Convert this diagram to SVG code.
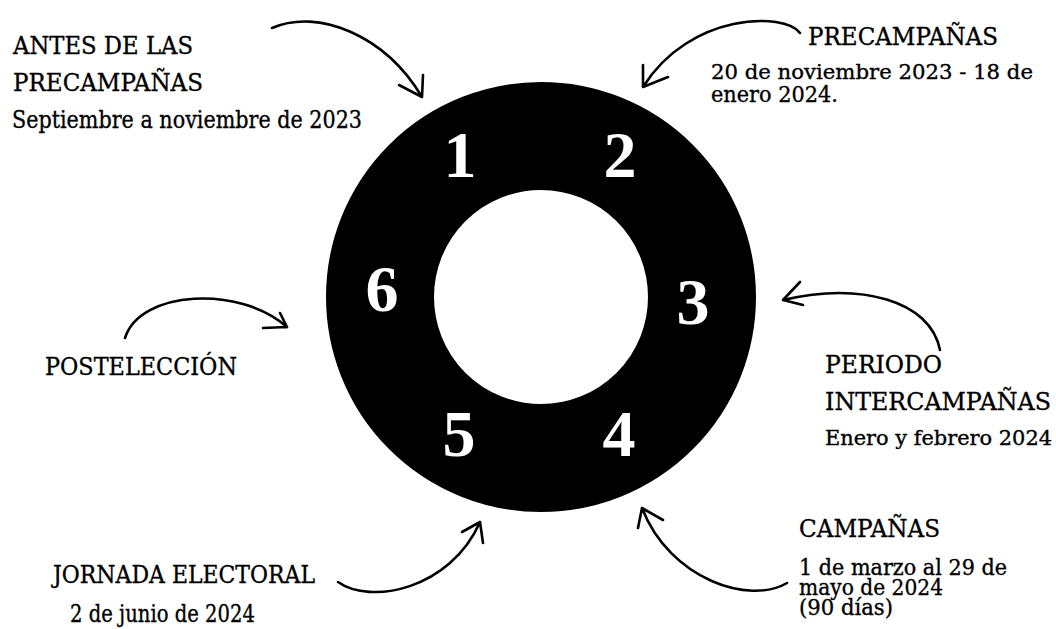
<svg xmlns="http://www.w3.org/2000/svg" width="1056" height="629" viewBox="0 0 1056 629">
<style>
.lbl{font-family:"DejaVu Serif","Liberation Serif",serif;font-size:24px;fill:#000;stroke:#000;stroke-width:0.35}
.tight{font-size:22px}
.edge{font-size:21px}
.num{font-family:"Liberation Serif","DejaVu Serif",serif;font-size:66px;font-weight:bold;fill:#fff;text-anchor:middle}
.arr{fill:none;stroke:#000;stroke-width:2.6;stroke-linecap:round;stroke-linejoin:round}
</style>
<rect width="1056" height="629" fill="#fff"/>
<g id="ring">
<circle cx="541" cy="297" r="161" fill="none" stroke="#000" stroke-width="108"/>
<text class="num" x="460" y="177">1</text>
<text class="num" x="620" y="177">2</text>
<text class="num" x="693" y="324">3</text>
<text class="num" x="619" y="456">4</text>
<text class="num" x="459" y="456">5</text>
<text class="num" x="382" y="311">6</text>
</g>
<g id="connectors">
<path class="arr" d="M272,28 C318,8 385,35 422,97 M399,85 L422,97 L423,75"/>
<path class="arr" d="M800,33 C785,12 690,12 643,87 M643,65 L643,87 L668,77"/>
<path class="arr" d="M940,350 C930,300 860,282 783,300 M800,282 L783,300 L803,305"/>
<path class="arr" d="M787,583 C750,605 670,580 642,508 M638,528 L642,508 L663,520"/>
<path class="arr" d="M338,582 C370,605 450,590 480,522 M462,532 L480,522 L483,543"/>
<path class="arr" d="M125,338 C140,290 240,285 287,327 M280,313 L287,327 L263,328"/>
</g>
<g id="n1">
<text class="lbl" x="13" y="54" textLength="180" lengthAdjust="spacingAndGlyphs">ANTES DE LAS</text>
<text class="lbl" x="13" y="91" textLength="190" lengthAdjust="spacingAndGlyphs">PRECAMPAÑAS</text>
<text class="lbl" x="12" y="128" textLength="350" lengthAdjust="spacingAndGlyphs">Septiembre a noviembre de 2023</text>
</g>
<g id="n2">
<text class="lbl" x="808" y="45" textLength="190" lengthAdjust="spacingAndGlyphs">PRECAMPAÑAS</text>
<text class="lbl edge" x="711" y="79" textLength="322" lengthAdjust="spacingAndGlyphs">20 de noviembre 2023 - 18 de</text>
<text class="lbl tight" x="711" y="102" textLength="127" lengthAdjust="spacingAndGlyphs">enero 2024.</text>
</g>
<g id="n3">
<text class="lbl" x="825" y="373" textLength="117" lengthAdjust="spacingAndGlyphs">PERIODO</text>
<text class="lbl" x="825" y="410" textLength="226" lengthAdjust="spacingAndGlyphs">INTERCAMPAÑAS</text>
<text class="lbl edge" x="825" y="445" textLength="227" lengthAdjust="spacingAndGlyphs">Enero y febrero 2024</text>
</g>
<g id="n4">
<text class="lbl" x="799" y="537" textLength="141" lengthAdjust="spacingAndGlyphs">CAMPAÑAS</text>
<text class="lbl tight" x="799" y="575" textLength="208" lengthAdjust="spacingAndGlyphs">1 de marzo al 29 de</text>
<text class="lbl tight" x="799" y="595" textLength="144" lengthAdjust="spacingAndGlyphs">mayo de 2024</text>
<text class="lbl tight" x="799" y="615" textLength="94" lengthAdjust="spacingAndGlyphs">(90 días)</text>
</g>
<g id="n5">
<text class="lbl" x="53" y="583" textLength="262" lengthAdjust="spacingAndGlyphs">JORNADA ELECTORAL</text>
<text class="lbl" x="70" y="622" textLength="185" lengthAdjust="spacingAndGlyphs">2 de junio de 2024</text>
</g>
<g id="n6">
<text class="lbl" x="45" y="375" textLength="192" lengthAdjust="spacingAndGlyphs">POSTELECCIÓN</text>
</g>
</svg>
